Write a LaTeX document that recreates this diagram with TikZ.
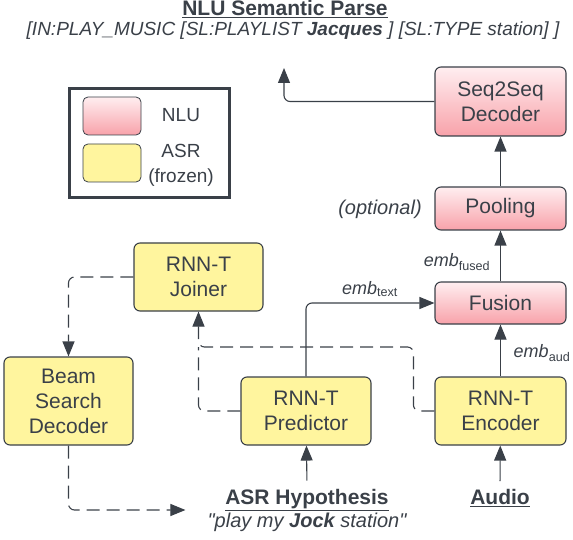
\documentclass[tikz,border=0pt]{standalone}
\usepackage{fontspec}
\setmainfont{Liberation Sans}[Ligatures=TeXOff]
\usetikzlibrary{arrows.meta,positioning}

\definecolor{linec}{RGB}{58,64,72}
\definecolor{asrfill}{RGB}{255,245,158}
\definecolor{nlutop}{RGB}{255,238,240}
\definecolor{nlubot}{RGB}{248,162,170}

\tikzset{
  block/.style={draw=linec, line width=1.1pt, rounded corners=6pt, align=center,
    text=linec, inner sep=0pt, font=\fontsize{21}{25}\selectfont},
  asrbox/.style={block, fill=asrfill},
  nlubox/.style={block, top color=nlutop, bottom color=nlubot},
  arr/.style={draw=linec, line width=1.1pt, -{Triangle[length=15pt,width=12pt]}},
  dasharr/.style={arr, dash pattern=on 13pt off 7pt},
  dashline/.style={draw=linec, line width=1.1pt, dash pattern=on 13pt off 7pt},
  lbl/.style={text=linec, inner sep=2pt, align=center},
}

\begin{document}
\begin{tikzpicture}[x=1pt, y=-1pt]
\useasboundingbox (0,0) rectangle (573,540);

% NLU side
\node[nlubox, minimum width=131pt, minimum height=69pt] (dec) at (500.5,101.5) {Seq2Seq\\Decoder};
\node[nlubox, minimum width=131pt, minimum height=43pt] (pool) at (500.5,208.5) {Pooling};
\node[nlubox, minimum width=131pt, minimum height=42pt] (fus) at (500.5,303) {Fusion};

% ASR side
\node[asrbox, minimum width=131pt, minimum height=68pt] (enc) at (500.5,411) {RNN-T\\Encoder};
\node[asrbox, minimum width=130pt, minimum height=68pt] (pred) at (306,411) {RNN-T\\Predictor};
\node[asrbox, minimum width=129pt, minimum height=68pt] (join) at (198.5,277) {RNN-T\\Joiner};
\node[asrbox, minimum width=129pt, minimum height=88pt] (beam) at (68.5,401) {Beam\\Search\\Decoder};

% legend
\node[draw=linec, line width=3pt, minimum width=160pt, minimum height=109pt] (leg) at (149,143) {};
\node[nlubox, line width=0.8pt, rounded corners=5pt, minimum width=58pt, minimum height=38pt] (keynlu) at (112,116) {};
\node[asrbox, line width=0.8pt, rounded corners=5pt, minimum width=58pt, minimum height=38pt] (keyasr) at (112,163) {};
\node[lbl, font=\fontsize{19}{25}\selectfont] (txtnlu) at (181,115) {NLU};
\node[lbl, font=\fontsize{19}{25}\selectfont] (txtasr) at (181,165) {ASR\\(frozen)};

% texts
\node[lbl, font=\fontsize{21}{25}\selectfont\bfseries] (title) at (285,9) {\underline{NLU Semantic Parse}};
\node[lbl, font=\fontsize{19}{24}\selectfont\itshape] (parse) at (293,31)
  {[IN:PLAY\_MUSIC [SL:PLAYLIST \textbf{Jacques} ] [SL:TYPE station] ]};
\node[lbl, font=\fontsize{20}{24}\selectfont\itshape] (opt) at (380,209) {(optional)};
\node[lbl, font=\fontsize{21}{23}\selectfont] (hyp) at (307,510)
  {\textbf{\underline{ASR Hypothesis}}\\{\fontsize{20}{23}\selectfont\itshape "play my \textbf{Jock} station"}};
\node[lbl, font=\fontsize{21}{25}\selectfont\bfseries] (aud) at (500,498) {\underline{Audio}};
\node[lbl, font=\fontsize{18}{22}\selectfont] (embfus) at (457,262) {\textit{emb}\textsubscript{fused}};
\node[lbl, font=\fontsize{18}{22}\selectfont] (embaud) at (542,353) {\textit{emb}\textsubscript{aud}};
\node[lbl, font=\fontsize{18}{22}\selectfont] (embtxt) at (370,289) {\textit{emb}\textsubscript{text}};

\coordinate (out) at (284,68);

% solid connectors
\draw[arr] (pool) -- (dec);
\draw[arr] (fus) -- (pool);
\draw[arr] (enc) -- (fus);
\draw[arr, rounded corners=6pt] (pred.north) |- (fus.west);
\draw[arr, rounded corners=6pt] (dec.west) -| (out);
\draw[arr, shorten <=6pt] (aud.north) -- (enc);
\draw[arr, shorten <=6pt] (hyp.north) -- (pred);

% dashed connectors
\coordinate (merge) at (198.5,347);
\draw[dasharr, rounded corners=6pt] (join.west) -| (beam.north);
\draw[dasharr, rounded corners=6pt, shorten >=20pt] (beam.south) |- (hyp.west);
\draw[dashline, rounded corners=6pt] (pred.west) -| (merge);
\draw[dasharr, rounded corners=6pt] (enc.west) -- ++(-21,0) |- (merge) -- (join.south);

\end{tikzpicture}
\end{document}
